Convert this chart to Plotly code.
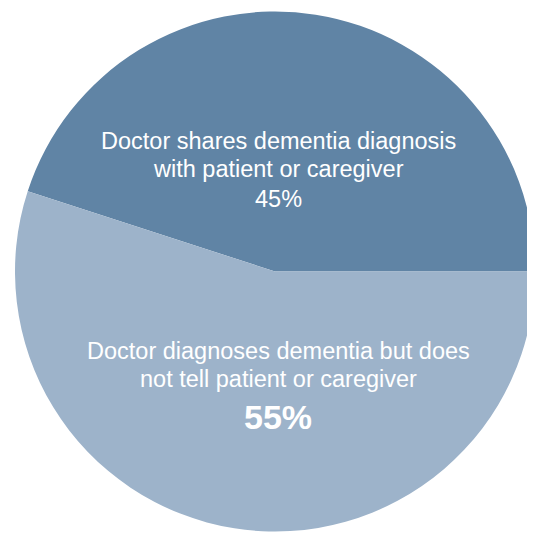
import plotly.graph_objects as go

labels = ["Doctor shares dementia diagnosis with patient or caregiver",
          "Doctor diagnoses dementia but does not tell patient or caregiver"]
values = [45, 55]
colors = ["#6084a5", "#9db3ca"]

# page is 535x533; browser body has an 8px default margin
OFF = 8
W, H = 535 - OFF, 533 - OFF

def px(x):
    return (x - OFF) / W

def py(y):
    return 1 - (y - OFF) / H

fig = go.Figure(go.Pie(
    labels=labels, values=values, sort=False, direction="clockwise",
    rotation=-72, textinfo="none", hoverinfo="label+percent",
    marker=dict(colors=colors, line=dict(width=0)),
    domain=dict(x=[px(15), 1.0], y=[0.0, py(10)]),
    showlegend=False,
))

font = "Liberation Sans, Arial, Helvetica, sans-serif"

def ann(text, x, y, size, bold=False):
    fig.add_annotation(
        text=f"<b>{text}</b>" if bold else text,
        xref="paper", yref="paper", x=px(x), y=py(y),
        xanchor="center", yanchor="middle", showarrow=False,
        font=dict(family=font, size=size, color="#ffffff"),
    )

ann("Doctor shares dementia diagnosis", 278, 141, 23.5)
ann("with patient or caregiver", 278, 169, 23.5)
ann(f"{values[0]}%", 278, 199, 23.5)
ann("Doctor diagnoses dementia but does", 278, 351, 23.5)
ann("not tell patient or caregiver", 278, 379, 23.5)
ann(f"{values[1]}%", 278, 417, 34, bold=True)

fig.update_layout(
    width=W, height=H, margin=dict(l=0, r=0, t=0, b=0),
    paper_bgcolor="white", plot_bgcolor="white",
)

fig.write_html("out.html")
